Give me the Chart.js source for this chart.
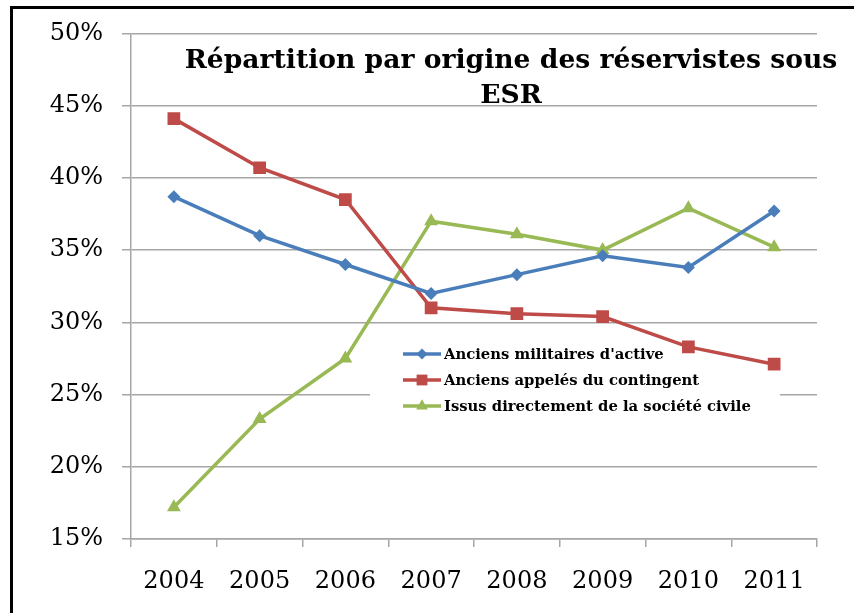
<!DOCTYPE html>
<html lang="fr">
<head>
<meta charset="utf-8">
<title>Répartition par origine des réservistes sous ESR</title>
<script src="https://cdn.jsdelivr.net/npm/chart.js@4.4.1/dist/chart.umd.min.js"></script>
<style>
  html, body { margin: 0; padding: 0; background: #fff; }
  #wrap { position: relative; width: 854px; height: 613px; }
</style>
</head>
<body>
<div id="wrap"><canvas id="chart" width="854" height="613"></canvas></div>
<script>
// ── Data ──────────────────────────────────────────────────
const years = ['2004', '2005', '2006', '2007', '2008', '2009', '2010', '2011'];
const anciensMilitaires = [38.7, 36.0, 34.0, 32.0, 33.3, 34.6, 33.8, 37.7];
const anciensAppeles    = [44.1, 40.7, 38.5, 31.0, 30.6, 30.4, 28.3, 27.1];
const issusSociete      = [17.2, 23.3, 27.5, 37.0, 36.1, 35.0, 37.9, 35.2];
const seriesNames = [
  "Anciens militaires d'active",
  'Anciens appelés du contingent',
  'Issus directement de la société civile',
];
const titleLines = ['Répartition par origine des réservistes sous', 'ESR'];
const yMin = 15, yMax = 50, yStep = 5;

// ── Style ─────────────────────────────────────────────────
const BLUE = '#4A7EBB';
const RED = '#BE4B48';
const GREEN = '#98B954';
const GRID = '#a6a6a6';
const SERIF = '"DejaVu Serif", "Liberation Serif", serif';

const series = [
  { label: seriesNames[0], data: anciensMilitaires, color: BLUE, point: 'rectRot', radius: 6.5 },
  { label: seriesNames[1], data: anciensAppeles, color: RED, point: 'rect', radius: 9 },
  { label: seriesNames[2], data: issusSociete, color: GREEN, point: 'triangle', radius: 8 },
];

// ── Plugins ───────────────────────────────────────────────
// black frame (left + top) around the pasted chart
const framePlugin = {
  id: 'frame',
  afterDraw(chart) {
    const ctx = chart.ctx;
    ctx.save();
    ctx.fillStyle = '#000';
    ctx.fillRect(10, 6, 3, chart.height - 6);
    ctx.fillRect(10, 6, chart.width - 10, 3);
    ctx.restore();
  },
};

// title sits inside the plot area, two lines centred
const titlePlugin = {
  id: 'insideTitle',
  afterDraw(chart) {
    const ctx = chart.ctx;
    ctx.save();
    ctx.font = 'bold 26.6px ' + SERIF;
    ctx.fillStyle = '#000';
    ctx.textAlign = 'center';
    ctx.textBaseline = 'alphabetic';
    ctx.fillText(titleLines[0], 511, 68);
    ctx.fillText(titleLines[1], 511, 103);
    ctx.restore();
  },
};

// legend inside the plot, white box hides the gridline behind it
const legendPlugin = {
  id: 'insideLegend',
  beforeDatasetsDraw(chart) {
    const ctx = chart.ctx;
    ctx.save();
    ctx.fillStyle = '#fff';
    ctx.fillRect(370, 336, 410, 84);
    ctx.restore();
  },
  afterDatasetsDraw(chart) {
    const ctx = chart.ctx;
    const x0 = 403, x1 = 441, rowY = [354, 380, 406];
    ctx.save();
    series.forEach((s, i) => {
      const y = rowY[i];
      ctx.strokeStyle = s.color;
      ctx.lineWidth = 3.5;
      ctx.beginPath();
      ctx.moveTo(x0, y);
      ctx.lineTo(x1, y);
      ctx.stroke();
      ctx.fillStyle = s.color;
      Chart.helpers.drawPoint(ctx, { pointStyle: s.point, radius: s.radius * 0.85, rotation: 0, borderWidth: 0 }, (x0 + x1) / 2, y);
      ctx.font = 'bold 14.8px ' + SERIF;
      ctx.fillStyle = '#000';
      ctx.textAlign = 'left';
      ctx.textBaseline = 'middle';
      ctx.fillText(s.label, 444, y + 1);
    });
    ctx.restore();
  },
};

// ── Chart ─────────────────────────────────────────────────
const datasets = series.map(s => ({
  label: s.label,
  data: s.data,
  borderColor: s.color,
  backgroundColor: s.color,
  borderWidth: 3.5,
  pointStyle: s.point,
  pointRadius: s.radius,
  pointBorderWidth: 0,
  pointBackgroundColor: s.color,
  tension: 0,
}));

new Chart(document.getElementById('chart'), {
  type: 'line',
  data: { labels: years, datasets },
  options: {
    responsive: false,
    animation: false,
    layout: { padding: { top: 31, right: 37, left: 0, bottom: 0 } },
    plugins: {
      legend: { display: false },
      title: { display: false },
      tooltip: { enabled: false },
    },
    scales: {
      x: {
        offset: true,
        grid: {
          offset: true,
          drawOnChartArea: false,
          drawTicks: true,
          tickLength: 8,
          color: GRID,
          lineWidth: 1.5,
        },
        border: { display: true, color: GRID, width: 1.5 },
        ticks: { color: '#000', font: { family: SERIF, size: 24 }, padding: 20, maxRotation: 0 },
        afterFit(scale) { scale.height = 74; },
      },
      y: {
        min: yMin,
        max: yMax,
        grid: { color: GRID, lineWidth: 1.5, tickLength: 9 },
        border: { display: true, color: GRID, width: 1.5 },
        ticks: {
          stepSize: yStep,
          color: '#000',
          font: { family: SERIF, size: 24 },
          padding: 19,
          callback: v => v + '%',
        },
        afterFit(scale) { scale.width = 131; },
      },
    },
  },
  plugins: [legendPlugin, titlePlugin, framePlugin],
});
</script>
</body>
</html>
